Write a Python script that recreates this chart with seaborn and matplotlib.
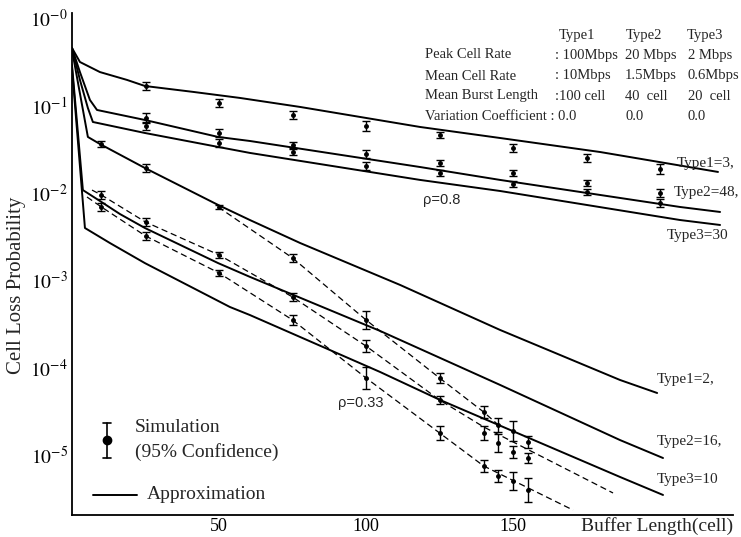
import numpy as np
import pandas as pd
import matplotlib
matplotlib.use("Agg")
import matplotlib.pyplot as plt
import matplotlib.ticker as mticker
import seaborn as sns

# ---------------------------------------------------------
# Approximation curves (solid), buffer length vs cell loss
# ---------------------------------------------------------
# rho = 0.8  (Type1=3, Type2=48, Type3=30)
hi_t1_x = [0, 2.7, 9.5, 18.7, 24.8, 41.2, 57.1, 77.6, 118.4, 145.6, 179.6, 219.7]
hi_t1_y = [0.454, 0.314, 0.241, 0.196, 0.167, 0.143, 0.122, 0.0962, 0.0568, 0.0425, 0.0294, 0.0174]
hi_t2_x = [0, 2.7, 6.1, 8.5, 24.8, 49.7, 60.5, 118.4, 145.6, 206.8, 220.4]
hi_t2_y = [0.454, 0.241, 0.1156, 0.0889, 0.0683, 0.0437, 0.0393, 0.0198, 0.0141, 0.00692, 0.00607]
hi_t3_x = [0, 2.7, 5.4, 7.1, 24.8, 49.7, 60.5, 118.4, 145.6, 206.8, 220.4]
hi_t3_y = [0.454, 0.196, 0.0936, 0.0648, 0.0485, 0.0336, 0.0287, 0.0141, 0.01054, 0.00491, 0.00431]

# rho = 0.33 (Type1=2, Type2=16, Type3=10)
lo_t1_x = [0, 5.4, 9.5, 24.8, 49.7, 60.5, 77.6, 111.6, 145.6, 186.4, 199]
lo_t1_y = [0.431, 0.0437, 0.0363, 0.0193, 0.0073, 0.00491, 0.00268, 8.89e-4, 2.72e-4, 7.29e-5, 5.18e-5]
lo_t2_x = [0, 3.7, 9.5, 16.3, 24.8, 49.7, 60.5, 104.8, 145.6, 186.4, 201]
lo_t2_y = [0.290, 0.0108, 0.0081, 0.00575, 0.00398, 0.00158, 0.00110, 2.65e-4, 6.4e-5, 1.50e-5, 9.36e-6]
lo_t3_x = [0, 4.4, 12.9, 24.8, 53.7, 60.5, 104.8, 125.2, 186.4, 201]
lo_t3_y = [0.268, 0.00398, 0.00268, 0.00158, 4.98e-4, 4.03e-4, 9.0e-5, 4.31e-5, 5.68e-6, 3.54e-6]

# ---------------------------------------------------------
# Simulation points with 95% confidence (factor = half-width ratio)
# ---------------------------------------------------------
sim_hi_x = [25, 50, 75, 100, 125, 150, 175, 200]
sim_hi_t1 = [0.167, 0.107, 0.0779, 0.0583, 0.046, 0.0327, 0.0251, 0.0188]
sim_hi_t2 = [0.072, 0.0485, 0.0354, 0.0279, 0.022, 0.0169, 0.013, 0.01]
sim_hi_t3 = [0.0583, 0.0373, 0.0294, 0.0204, 0.0169, 0.0127, 0.0103, 0.00769]
ci_hi_t1 = [1.111, 1.111, 1.111, 1.141, 1.082, 1.111, 1.111, 1.141]
ci_hi_t2 = [1.141, 1.111, 1.082, 1.111, 1.082, 1.082, 1.082, 1.111]
ci_hi_t3 = [1.111, 1.111, 1.082, 1.111, 1.082, 1.082, 1.082, 1.111]

sim_lo_x = [10, 25, 50, 75, 100, 125, 140, 145, 150, 155]
sim_lo_t1 = [0.0363, 0.0193, 0.00692, 0.00181, 3.54e-4, 7.69e-5, 3.14e-5, 2.23e-5, 1.91e-5, 1.43e-5]
sim_lo_t2 = [0.00948, 0.00466, 0.00196, 6.48e-4, 1.78e-4, 4.31e-5, 1.81e-5, 1.39e-5, 1.10e-5, 9.36e-6]
sim_lo_t3 = [0.00692, 0.00323, 0.00122, 3.54e-4, 7.69e-5, 1.81e-5, 7.59e-6, 5.83e-6, 5.12e-6, 4.04e-6]
ci_lo_t1 = [1.082, 1.111, 1.054, 1.111, 1.268, 1.141, 1.171, 1.202, 1.301, 1.171]
ci_lo_t2 = [1.111, 1.111, 1.082, 1.111, 1.171, 1.111, 1.202, 1.268, 1.171, 1.141]
ci_lo_t3 = [1.111, 1.111, 1.082, 1.141, 1.336, 1.202, 1.171, 1.171, 1.268, 1.371]

# dashed lines drawn through the rho=0.33 simulation results
dash_t1_x = [49.7, 75, 100, 125, 140, 145]
dash_t1_y = [0.00692, 0.00181, 3.54e-4, 7.69e-5, 3.14e-5, 2.23e-5]
dash_t2_x = [6.8, 10, 25, 50, 75, 100, 125, 140, 184]
dash_t2_y = [0.0108, 0.00948, 0.00466, 0.00196, 6.48e-4, 1.78e-4, 4.31e-5, 2.12e-5, 3.73e-6]
dash_t3_x = [5.1, 10, 25, 50, 75, 100, 125, 140, 170.4]
dash_t3_y = [0.009, 0.00692, 0.00323, 0.00122, 3.54e-4, 7.69e-5, 1.81e-5, 7.59e-6, 2.38e-6]

x_ticks = [50, 100, 150, 200]
x_tick_labels = ["50", "100", "150", ""]
y_ticks = [1, 1e-1, 1e-2, 1e-3, 1e-4, 1e-5]
y_tick_labels = [r"$10^{-0}$", r"$10^{-1}$", r"$10^{-2}$", r"$10^{-3}$", r"$10^{-4}$", r"$10^{-5}$"]

header_cols = ["Type1", "Type2", "Type3"]
header_rows = ["Peak Cell Rate", "Mean Cell Rate", "Mean Burst Length", "Variation Coefficient : 0.0"]
header_vals = [[": 100Mbps", "20 Mbps", "2 Mbps"],
               [": 10Mbps", "1.5Mbps", "0.6Mbps"],
               [":100 cell", "40  cell", "20  cell"],
               ["", "0.0", "0.0"]]


def long_frame(curves):
    parts = []
    for name, xs, ys in curves:
        parts.append(pd.DataFrame({"buffer": xs, "clp": ys, "curve": name}))
    return pd.concat(parts, ignore_index=True)


approx = long_frame([
    ("hi1", hi_t1_x, hi_t1_y), ("hi2", hi_t2_x, hi_t2_y), ("hi3", hi_t3_x, hi_t3_y),
    ("lo1", lo_t1_x, lo_t1_y), ("lo2", lo_t2_x, lo_t2_y), ("lo3", lo_t3_x, lo_t3_y),
])
dashed = long_frame([
    ("d1", dash_t1_x, dash_t1_y), ("d2", dash_t2_x, dash_t2_y), ("d3", dash_t3_x, dash_t3_y),
])

sns.set_theme(style="white")
plt.rcParams["font.family"] = ["Liberation Serif", "DejaVu Serif"]
plt.rcParams["mathtext.fontset"] = "stix"

W, H = 741, 537
fig = plt.figure(figsize=(W / 100, H / 100), dpi=100)
ax = fig.add_axes([72 / W, 22 / H, (733 - 72) / W, (515 - 13) / H])

sns.lineplot(data=approx, x="buffer", y="clp", units="curve", estimator=None, sort=False,
             color="black", lw=1.4, ax=ax)
sns.lineplot(data=dashed, x="buffer", y="clp", units="curve", estimator=None, sort=False,
             color="black", lw=0.9, linestyle=(0, (5, 3)), ax=ax)

for xs, ys, fs in [(sim_hi_x, sim_hi_t1, ci_hi_t1), (sim_hi_x, sim_hi_t2, ci_hi_t2),
                   (sim_hi_x, sim_hi_t3, ci_hi_t3), (sim_lo_x, sim_lo_t1, ci_lo_t1),
                   (sim_lo_x, sim_lo_t2, ci_lo_t2), (sim_lo_x, sim_lo_t3, ci_lo_t3)]:
    ys = np.array(ys)
    fs = np.array(fs)
    ax.errorbar(xs, ys, yerr=[ys - ys / fs, ys * fs - ys], fmt="o", ms=2.5, color="black",
                elinewidth=1.0, capsize=3, capthick=1.0, zorder=5)

ax.set_yscale("log")
ax.set_xlim(0, 224.8)
ax.set_ylim(10 ** -5.68, 10 ** 0.057)
ax.set_xlabel("")
ax.set_ylabel("")

ax.set_xticks(x_ticks)
ax.set_xticklabels(x_tick_labels, fontsize=13)
ax.xaxis.set_minor_locator(mticker.MultipleLocator(5))
ax.set_yticks(y_ticks)
ax.set_yticklabels(y_tick_labels, fontsize=14)
ax.yaxis.set_minor_locator(mticker.NullLocator())
ax.tick_params(axis="x", which="major", direction="in", length=4, width=1, pad=2, colors="black")
ax.tick_params(axis="x", which="minor", direction="in", length=1.5, width=0.6)
ax.tick_params(axis="y", which="major", direction="in", length=3, width=1, pad=3, colors="black")

for s in ["top", "right"]:
    ax.spines[s].set_visible(False)
for s in ["left", "bottom"]:
    ax.spines[s].set_color("black")
    ax.spines[s].set_linewidth(1.3)

ax.text(1.0, -0.005, "Buffer Length(cell)", transform=ax.transAxes, ha="right", va="top",
        fontsize=14)
fig.text(17 / W, 1 - 285 / H, "Cell Loss Probability", rotation=90, ha="center", va="center",
         fontsize=15)

# curve labels
lab_kw = dict(fontsize=11, ha="left", va="center")
ax.text(205.8, 0.022, "Type1=3,", **lab_kw)
ax.text(204.5, 0.0100, "Type2=48,", **lab_kw)
ax.text(202.4, 0.0033, "Type3=30", **lab_kw)
ax.text(199, 7.3e-5, "Type1=2,", **lab_kw)
ax.text(199, 1.43e-5, "Type2=16,", **lab_kw)
ax.text(199, 5.25e-6, "Type3=10", **lab_kw)
ax.text(119.4, 0.0083, "ρ=0.8", fontsize=10.5, ha="left", va="center",
        family=["Liberation Sans", "DejaVu Sans"])
ax.text(90.5, 3.98e-5, "ρ=0.33", fontsize=10.5, ha="left", va="center",
        family=["Liberation Sans", "DejaVu Sans"])

# header table
col_x = [555, 625, 688]
head_x = [559, 626, 687]
row_y = [55, 76, 96, 116]
for cx, name in zip(head_x, header_cols):
    fig.text(cx / W, 1 - 35 / H, name, fontsize=10.5, ha="left", va="center")
for ry, label, vals in zip(row_y, header_rows, header_vals):
    fig.text(425 / W, 1 - ry / H, label, fontsize=10.5, ha="left", va="center")
    for cx, v in zip(col_x, vals):
        if v:
            fig.text(cx / W, 1 - ry / H, v, fontsize=10.5, ha="left", va="center")

# legend drawn by hand
T = ax.transAxes
ax.plot([0.053, 0.053], [0.114, 0.183], color="black", lw=1.2, transform=T)
ax.plot([0.047, 0.059], [0.183, 0.183], color="black", lw=1.2, transform=T)
ax.plot([0.047, 0.059], [0.114, 0.114], color="black", lw=1.2, transform=T)
ax.plot([0.053], [0.149], "o", ms=6, color="black", transform=T)
ax.text(0.095, 0.175, "Simulation", transform=T, fontsize=14, ha="left", va="center")
ax.text(0.095, 0.125, "(95% Confidence)", transform=T, fontsize=14, ha="left", va="center")
ax.plot([0.032, 0.098], [0.040, 0.040], color="black", lw=1.4, transform=T)
ax.text(0.113, 0.040, "Approximation", transform=T, fontsize=14, ha="left", va="center")

fig.savefig("out.png", dpi=100)
